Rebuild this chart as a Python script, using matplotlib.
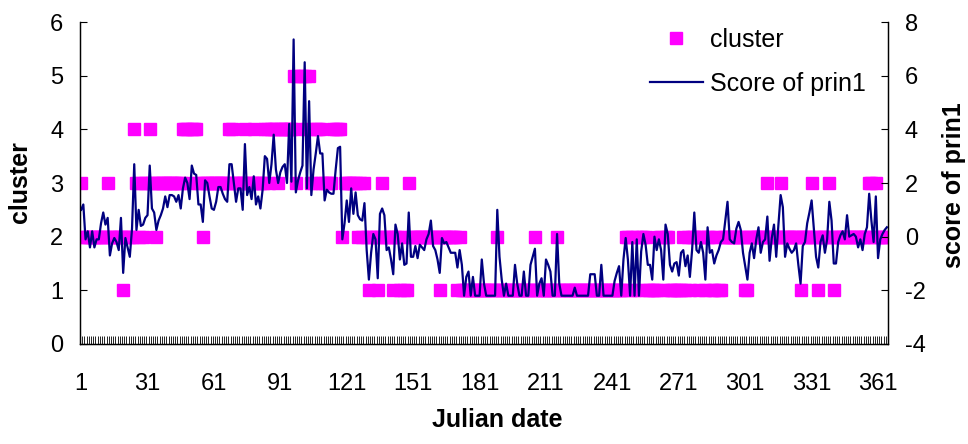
import matplotlib
matplotlib.use("Agg")
import matplotlib.pyplot as plt
from matplotlib.lines import Line2D
import numpy as np

plt.rcParams['font.family'] = ['Liberation Sans', 'DejaVu Sans']
plt.rcParams['axes.unicode_minus'] = False

# cluster number for each Julian day 1..365
cluster = [
    3, 2, 2, 2, 2, 2, 2, 2, 2, 2,
    2, 2, 3, 2, 2, 2, 2, 2, 2, 1,
    2, 2, 2, 2, 4, 3, 2, 3, 2, 3,
    3, 4, 3, 3, 2, 3, 3, 3, 3, 3,
    3, 3, 3, 3, 3, 3, 4, 4, 4, 3,
    4, 4, 4, 3, 3, 2, 3, 3, 3, 3,
    3, 3, 3, 3, 3, 3, 3, 4, 4, 3,
    3, 3, 3, 3, 4, 3, 3, 3, 4, 3,
    3, 3, 3, 4, 4, 3, 4, 4, 4, 3,
    4, 4, 4, 4, 4, 4, 5, 3, 4, 5,
    5, 5, 4, 5, 3, 3, 4, 4, 4, 3,
    3, 3, 3, 3, 4, 4, 4, 4, 2, 3,
    3, 3, 3, 3, 3, 2, 3, 2, 3, 2,
    1, 2, 2, 2, 1, 2, 3, 2, 2, 2,
    2, 1, 2, 2, 1, 2, 1, 1, 3, 2,
    2, 2, 2, 2, 2, 2, 2, 2, 2, 2,
    2, 2, 1, 2, 2, 2, 2, 2, 2, 2,
    1, 2, 1, 1, 1, 1, 1, 1, 1, 1,
    1, 1, 1, 1, 1, 1, 1, 1, 2, 1,
    1, 1, 1, 1, 1, 1, 1, 1, 1, 1,
    1, 1, 1, 1, 1, 2, 1, 1, 1, 1,
    1, 1, 1, 1, 1, 2, 1, 1, 1, 1,
    1, 1, 1, 1, 1, 1, 1, 1, 1, 1,
    1, 1, 1, 1, 1, 1, 1, 1, 1, 1,
    1, 1, 1, 1, 1, 1, 2, 2, 1, 2,
    1, 2, 1, 2, 2, 2, 1, 1, 1, 1,
    1, 2, 2, 1, 2, 2, 1, 1, 1, 1,
    1, 1, 2, 1, 2, 1, 2, 2, 2, 1,
    2, 2, 1, 2, 2, 1, 1, 2, 1, 1,
    2, 2, 2, 2, 2, 2, 2, 2, 2, 2,
    1, 1, 2, 2, 2, 2, 2, 2, 2, 2,
    3, 2, 2, 2, 2, 2, 3, 2, 2, 2,
    2, 2, 2, 2, 2, 1, 2, 2, 2, 2,
    3, 2, 2, 1, 2, 2, 2, 2, 3, 2,
    1, 2, 2, 2, 2, 2, 2, 2, 2, 2,
    2, 2, 2, 2, 2, 2, 3, 3, 2, 3,
    2, 2, 2, 2, 2,
]

# score of the first principal component for each day
prin1 = [
    1.0, 1.2, -0.1, 0.2, -0.4, 0.2, -0.4, -0.1, -0.1, 0.5,
    0.9, 0.45, 0.7, -0.7, -0.25, -0.05, -0.2, -0.5, 0.7, -1.35,
    -0.05, -0.4, -0.75, 0.3, 2.7, 0.25, 1.0, 0.4, 0.45, 0.7,
    0.8, 2.65, 1.05, 0.9, 0.25, 0.6, 0.8, 1.05, 1.5, 1.1,
    1.55, 1.55, 1.5, 1.3, 1.55, 1.05, 1.8, 2.2, 2.0, 1.4,
    2.65, 2.35, 2.3, 1.2, 1.2, 0.55, 2.1, 2.0, 1.5, 1.05,
    1.0, 1.3, 1.85, 1.85, 1.6, 1.4, 1.3, 2.7, 2.7, 2.0,
    1.3, 1.8, 1.8, 1.0, 3.45, 1.55, 1.85, 1.4, 2.25, 1.2,
    1.5, 1.05, 1.75, 3.0, 2.9, 2.0, 2.7, 3.8, 2.5, 2.0,
    2.4, 2.6, 2.7, 2.0, 4.2, 2.05, 7.35, 1.65, 2.1, 2.4,
    2.65, 6.5, 1.8, 5.05, 1.55, 2.5, 3.1, 3.75, 3.1, 3.1,
    1.35, 1.75, 1.65, 1.6, 1.6, 2.5, 3.3, 3.35, -0.1, 0.5,
    1.35, 0.55, 1.8, 0.85, 1.65, 0.8, 0.65, 0.6, 1.25, -0.5,
    -1.6, -0.6, 0.1, -0.1, -1.55, 0.85, 1.05, 0.8, -0.5, -0.4,
    -0.85, -1.4, 0.45, 0.1, -0.85, -0.25, -1.05, -1.0, 0.9, -0.75,
    -0.75, -0.35, -0.8, -0.3, -0.4, -0.5, -0.1, 0.1, 0.6, -0.35,
    -0.5, -0.85, -1.35, -0.05, -0.25, -0.2, -0.4, -0.6, -0.6, -0.6,
    -1.15, -0.5, -1.05, -2.2, -1.5, -1.3, -2.2, -1.5, -2.2, -2.2,
    -2.2, -0.85, -1.75, -2.2, -2.2, -2.2, -2.2, -2.2, 1.0, -0.75,
    -1.6, -2.2, -1.75, -2.2, -2.2, -2.2, -1.05, -1.75, -2.2, -2.2,
    -1.3, -2.2, -2.2, -1.05, -0.75, -0.45, -2.2, -1.75, -1.55, -2.2,
    -0.85, -1.05, -1.3, -2.2, -2.2, 0.1, -1.75, -2.2, -2.2, -2.2,
    -2.2, -2.2, -2.2, -1.9, -2.2, -2.2, -2.2, -2.2, -2.2, -2.2,
    -1.4, -1.4, -1.4, -2.2, -2.2, -1.05, -2.2, -2.2, -2.2, -2.2,
    -2.2, -1.65, -1.35, -1.1, -2.2, -0.85, -0.05, -0.85, -2.2, -0.2,
    -2.2, -0.1, -2.2, -0.55, 0.1, -0.3, -1.05, -1.05, -1.6, 0.0,
    -0.5, -0.1, -0.5, -1.6, 0.45, 0.1, -1.05, -1.3, -1.0, -0.95,
    -1.45, -0.6, -0.5, -1.1, -0.7, -1.5, -0.5, 0.9, -0.5, -0.6,
    -0.2, -0.6, -1.6, 0.35, -0.6, -0.5, -1.0, -0.7, -0.5, -0.2,
    -0.1, 0.6, 1.3, -0.1, -0.2, -0.25, 0.3, 0.55, 0.25, -0.6,
    -1.1, -1.6, -0.6, -0.25, -0.8, -0.1, 0.35, -0.6, -0.2, -0.1,
    0.75, -0.9, -0.05, 0.45, -0.75, 0.45, 1.55, 1.1, -0.75, -0.25,
    -0.45, -0.6, -0.5, -0.25, -1.05, -1.75, -0.35, -0.2, 0.5, 0.9,
    1.35, 0.3, -0.75, -1.15, -0.2, 0.05, -0.6, -0.1, 1.3, 0.6,
    -1.0, -1.0, -0.2, 0.05, 0.2, -0.1, 0.8, 0.0, 0.05, 0.1,
    0.0, -0.4, -0.1, -0.5, 0.1, 0.35, 1.6, 0.6, -0.2, 1.5,
    -0.8, -0.1, 0.1, 0.25, 0.35,
]

day_labels = [1, 31, 61, 91, 121, 151, 181, 211, 241, 271, 301, 331, 361]

days = np.arange(1, len(cluster) + 1)

fig = plt.figure(figsize=(9.68, 4.44), dpi=100)
ax = fig.add_axes([80 / 968, 1 - 344 / 444, 808 / 968, 322 / 444])
ax2 = ax.twinx()

ax.plot(days, cluster, linestyle='none', marker='s', markersize=8.3,
        color='#FF00FF', markeredgecolor='#FF00FF')
ax2.plot(days, prin1, color='#000080', linewidth=1.6)

ax.set_xlim(0.5, len(cluster) + 0.5)
ax.set_ylim(0, 6)
ax2.set_ylim(-4, 8)
ax.set_yticks(range(0, 7))
ax2.set_yticks(range(-4, 9, 2))

# a small tick at every day boundary, labels every 30 days
ax.set_xticks(np.arange(0.5, len(cluster) + 1, 1))
ax.set_xticklabels([])
ax.set_xticks(day_labels, minor=True)
ax.set_xticklabels([str(d) for d in day_labels], minor=True)
ax.tick_params(axis='x', which='major', direction='in', length=6, width=0.6)
ax.tick_params(axis='x', which='minor', length=0, pad=21, labelsize=17)

ax.tick_params(axis='y', direction='in', length=5, width=0.8, pad=12, labelsize=17)
ax2.tick_params(axis='y', direction='in', length=5, width=0.8, pad=12, labelsize=17)

for a in (ax, ax2):
    a.spines['top'].set_visible(False)
    for s in ('left', 'right', 'bottom'):
        a.spines[s].set_linewidth(0.9)

fig.text(20 / 968, 1 - 182 / 444, 'cluster', rotation=90, fontsize=18,
         fontweight='bold', ha='center', va='center')
fig.text(954 / 968, 1 - 185 / 444, 'score of prin1', rotation=90, fontsize=18,
         fontweight='bold', ha='center', va='center')
fig.text(497 / 968, 1 - 420 / 444, 'Julian date', fontsize=18,
         fontweight='bold', ha='center', va='center')

handles = [
    Line2D([], [], linestyle='none', marker='s', markersize=8.3,
           color='#FF00FF'),
    Line2D([], [], color='#000080', linewidth=1.6),
]
fig.legend(handles, ['cluster', 'Score of prin1'], loc='upper left',
           bbox_to_anchor=(650 / 968, 1 - 28 / 444), frameon=False,
           fontsize=18, handlelength=2.1, handletextpad=0.3,
           labelspacing=0.78, borderpad=0, borderaxespad=0)

fig.savefig('out.png', dpi=100)
